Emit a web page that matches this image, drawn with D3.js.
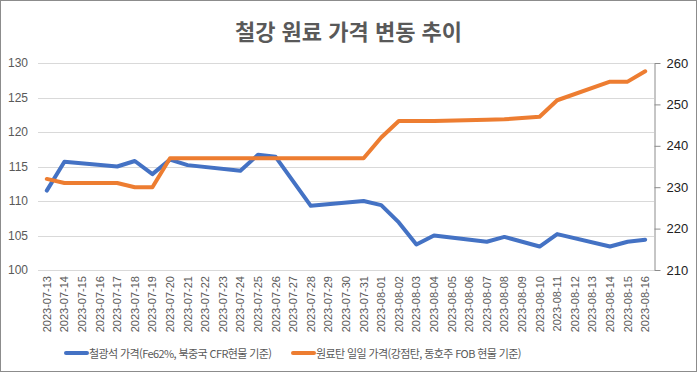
<!DOCTYPE html>
<html lang="ko">
<head>
<meta charset="utf-8">
<title>철강 원료 가격 변동 추이</title>
<script src="https://cdn.jsdelivr.net/npm/d3@7"></script>
<style>
  body { margin: 0; background: #fff; }
  svg { display: block; font-family: "Noto Sans CJK KR", "Noto Sans", sans-serif; }
</style>
</head>
<body>
<script>
// dates (weekend / missing days are null in series)
var dates = ["2023-07-13","2023-07-14","2023-07-15","2023-07-16","2023-07-17","2023-07-18","2023-07-19",
  "2023-07-20","2023-07-21","2023-07-22","2023-07-23","2023-07-24","2023-07-25","2023-07-26","2023-07-27",
  "2023-07-28","2023-07-29","2023-07-30","2023-07-31","2023-08-01","2023-08-02","2023-08-03","2023-08-04",
  "2023-08-05","2023-08-06","2023-08-07","2023-08-08","2023-08-09","2023-08-10","2023-08-11","2023-08-12",
  "2023-08-13","2023-08-14","2023-08-15","2023-08-16"];

// 철광석 가격 (left axis)
var ironOre = [111.5,115.7,null,null,115.0,115.8,113.9,116.0,115.2,null,null,114.4,116.7,116.4,null,
  109.3,null,null,110.0,109.4,106.9,103.7,105.0,null,null,104.1,104.8,null,103.4,105.2,null,null,103.4,104.1,104.4];

// 원료탄 가격 (right axis)
var coal = [232,231,null,null,231,230,230,237,237,null,null,237,237,237,null,
  237,null,null,237,242,246,246,246,null,null,246.3,246.4,null,247,251,null,null,255.5,255.5,258];

var leftTicks = [100,105,110,115,120,125,130];
var rightTicks = [210,220,230,240,250,260];
var seriesNames = ["철광석 가격(Fe62%, 북중국 CFR현물 기준)", "원료탄 일일 가격(강점탄, 동호주 FOB 현물 기준)"];
var colors = ["#4472C4", "#ED7D31"];

var w = 697, h = 374;
var padL = 38, padR = 654, padT = 63, padB = 270;

var svg = d3.select("body").append("svg").attr("width", w).attr("height", h);

svg.append("rect").attr("x", 0.5).attr("y", 0.5).attr("width", w - 1).attr("height", h - 3)
  .attr("fill", "#fff").attr("stroke", "#8c8c8c");

svg.append("text").attr("x", w / 2).attr("y", 40).attr("text-anchor", "middle")
  .attr("font-size", "22px").attr("font-weight", "bold").attr("fill", "#595959")
  .text("철강 원료 가격 변동 추이");

var x = d3.scaleBand().domain(dates).range([padL, padR]);
var yL = d3.scaleLinear().domain([100, 130]).range([padB, padT]);
var yR = d3.scaleLinear().domain([210, 260]).range([padB, padT]);

// gridlines
svg.append("g").selectAll("line").data(leftTicks).enter().append("line")
  .attr("x1", padL).attr("x2", padR)
  .attr("y1", function(d) { return Math.round(yL(d)) + 0.5; })
  .attr("y2", function(d) { return Math.round(yL(d)) + 0.5; })
  .attr("stroke", "#d9d9d9").attr("stroke-width", 1);

// left axis
var yAxisL = d3.axisLeft(yL).tickValues(leftTicks).tickSize(0).tickPadding(10);
var gL = svg.append("g").attr("transform", "translate(" + padL + ",0)").call(yAxisL);
gL.select(".domain").remove();
gL.selectAll("text").attr("font-size", "12px").attr("fill", "#595959").attr("font-family", "Liberation Sans, sans-serif");

// right axis
var yAxisR = d3.axisRight(yR).tickValues(rightTicks).tickSize(6).tickPadding(6).tickSizeOuter(0);
var gR = svg.append("g").attr("transform", "translate(" + (padR + 0.5) + ",0)").call(yAxisR);
gR.select(".domain").attr("stroke", "#8c8c8c");
gR.selectAll(".tick line").attr("stroke", "#8c8c8c");
gR.selectAll("text").attr("font-size", "13px").attr("fill", "#222").attr("font-family", "Liberation Sans, sans-serif");

// x axis labels
var xAxis = d3.axisBottom(x).tickSize(0).tickPadding(0);
var gX = svg.append("g").attr("transform", "translate(0," + padB + ")").call(xAxis);
gX.select(".domain").remove();
gX.selectAll("text")
  .attr("font-size", "11px").attr("fill", "#595959").attr("font-family", "Liberation Sans, sans-serif")
  .attr("text-anchor", "end")
  .attr("transform", "translate(4,6) rotate(-90)")
  .attr("dy", "0").attr("y", 0).attr("x", 0);

// lines (connect across gaps)
var lineL = d3.line()
  .x(function(d) { return x(d.date) + x.bandwidth() / 2; })
  .y(function(d) { return yL(d.v); });
var lineR = d3.line()
  .x(function(d) { return x(d.date) + x.bandwidth() / 2; })
  .y(function(d) { return yR(d.v); });

function pts(arr) {
  return dates.map(function(d, i) { return { date: d, v: arr[i] }; })
    .filter(function(p) { return p.v !== null; });
}

svg.append("path").datum(pts(ironOre)).attr("d", lineL)
  .attr("fill", "none").attr("stroke", colors[0]).attr("stroke-width", 4)
  .attr("stroke-linejoin", "round").attr("stroke-linecap", "round");
svg.append("path").datum(pts(coal)).attr("d", lineR)
  .attr("fill", "none").attr("stroke", colors[1]).attr("stroke-width", 4)
  .attr("stroke-linejoin", "round").attr("stroke-linecap", "round");

// legend
var legendX = [66, 293];
var lg = svg.append("g").selectAll("g").data(seriesNames).enter().append("g")
  .attr("transform", function(d, i) { return "translate(" + legendX[i] + ",353)"; });
lg.append("line").attr("x1", 0).attr("x2", 21).attr("y1", 0).attr("y2", 0)
  .attr("stroke", function(d, i) { return colors[i]; }).attr("stroke-width", 4).attr("stroke-linecap", "round");
lg.append("text").attr("x", 23).attr("y", 4.5).attr("font-size", "11px").attr("fill", "#595959")
  .attr("letter-spacing", "-0.6px")
  .text(function(d) { return d; });
</script>
</body>
</html>
